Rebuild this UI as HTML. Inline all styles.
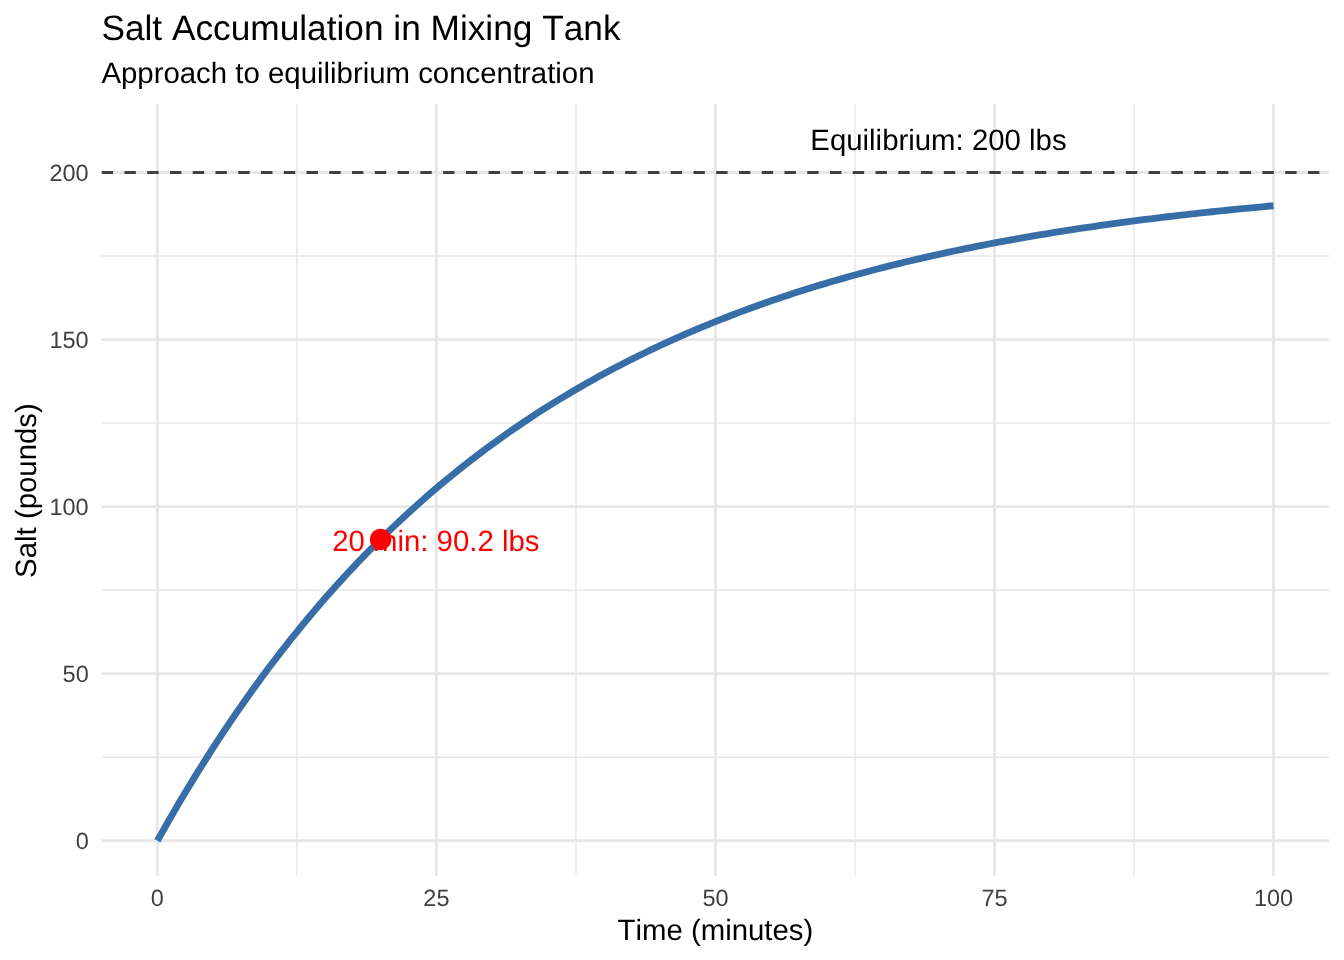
<!DOCTYPE html>
<html><head><meta charset="utf-8"><title>Salt Accumulation in Mixing Tank</title>
<style>
html,body{margin:0;padding:0;background:#fff;}
body{width:1344px;height:960px;overflow:hidden;}
svg{display:block;will-change:transform;font-kerning:none;text-rendering:geometricPrecision;font-family:"Liberation Sans",Arial,Helvetica,sans-serif;}
.ax{font-size:23.47px;fill:#404040;}
.lab{font-size:29.39px;fill:#000;}
</style></head><body>
<svg width="1344" height="960" viewBox="0 0 1344 960">
<rect width="1344" height="960" fill="#ffffff"/>
<text x="101.4" y="40.1" font-size="35.25" fill="#000">Salt Accumulation in Mixing Tank</text>
<text x="101.4" y="82.8" class="lab">Approach to equilibrium concentration</text>
<line x1="296.91" x2="296.91" y1="104.0" y2="875.85" stroke="#e7e7e7" stroke-width="1.42"/><line x1="575.94" x2="575.94" y1="104.0" y2="875.85" stroke="#e7e7e7" stroke-width="1.42"/><line x1="854.96" x2="854.96" y1="104.0" y2="875.85" stroke="#e7e7e7" stroke-width="1.42"/><line x1="1133.99" x2="1133.99" y1="104.0" y2="875.85" stroke="#e7e7e7" stroke-width="1.42"/><line x1="101.7" x2="1329.1" y1="757.23" y2="757.23" stroke="#e7e7e7" stroke-width="1.42"/><line x1="101.7" x2="1329.1" y1="590.17" y2="590.17" stroke="#e7e7e7" stroke-width="1.42"/><line x1="101.7" x2="1329.1" y1="423.10" y2="423.10" stroke="#e7e7e7" stroke-width="1.42"/><line x1="101.7" x2="1329.1" y1="256.03" y2="256.03" stroke="#e7e7e7" stroke-width="1.42"/><line x1="157.40" x2="157.40" y1="104.0" y2="875.85" stroke="#e7e7e7" stroke-width="2.84"/><line x1="436.42" x2="436.42" y1="104.0" y2="875.85" stroke="#e7e7e7" stroke-width="2.84"/><line x1="715.45" x2="715.45" y1="104.0" y2="875.85" stroke="#e7e7e7" stroke-width="2.84"/><line x1="994.47" x2="994.47" y1="104.0" y2="875.85" stroke="#e7e7e7" stroke-width="2.84"/><line x1="1273.50" x2="1273.50" y1="104.0" y2="875.85" stroke="#e7e7e7" stroke-width="2.84"/><line x1="101.7" x2="1329.1" y1="840.77" y2="840.77" stroke="#e7e7e7" stroke-width="2.84"/><line x1="101.7" x2="1329.1" y1="673.70" y2="673.70" stroke="#e7e7e7" stroke-width="2.84"/><line x1="101.7" x2="1329.1" y1="506.63" y2="506.63" stroke="#e7e7e7" stroke-width="2.84"/><line x1="101.7" x2="1329.1" y1="339.56" y2="339.56" stroke="#e7e7e7" stroke-width="2.84"/><line x1="101.7" x2="1329.1" y1="172.50" y2="172.50" stroke="#e7e7e7" stroke-width="2.84"/>
<polyline fill="none" stroke="#386ea7" stroke-width="6.83" stroke-linejoin="round" points="157.40,840.77 162.98,830.82 168.56,821.02 174.14,811.36 179.72,801.85 185.30,792.48 190.88,783.25 196.46,774.16 202.04,765.20 207.62,756.37 213.21,747.68 218.79,739.12 224.37,730.68 229.95,722.37 235.53,714.19 241.11,706.12 246.69,698.18 252.27,690.35 257.85,682.64 263.43,675.04 269.01,667.56 274.59,660.19 280.17,652.93 285.75,645.78 291.33,638.73 296.91,631.79 302.49,624.95 308.07,618.22 313.65,611.58 319.23,605.04 324.81,598.60 330.40,592.26 335.98,586.01 341.56,579.85 347.14,573.79 352.72,567.82 358.30,561.93 363.88,556.13 369.46,550.42 375.04,544.79 380.62,539.25 386.20,533.79 391.78,528.41 397.36,523.11 402.94,517.89 408.52,512.75 414.10,507.68 419.68,502.69 425.26,497.78 430.84,492.94 436.42,488.17 442.01,483.47 447.59,478.84 453.17,474.27 458.75,469.78 464.33,465.36 469.91,461.00 475.49,456.70 481.07,452.47 486.65,448.30 492.23,444.20 497.81,440.15 503.39,436.17 508.97,432.24 514.55,428.37 520.13,424.56 525.71,420.81 531.29,417.11 536.87,413.47 542.45,409.88 548.03,406.35 553.62,402.87 559.20,399.44 564.78,396.06 570.36,392.73 575.94,389.45 581.52,386.22 587.10,383.04 592.68,379.91 598.26,376.82 603.84,373.78 609.42,370.78 615.00,367.83 620.58,364.92 626.16,362.05 631.74,359.23 637.32,356.45 642.90,353.71 648.48,351.02 654.06,348.36 659.64,345.74 665.23,343.16 670.81,340.62 676.39,338.12 681.97,335.65 687.55,333.22 693.13,330.83 698.71,328.47 704.29,326.15 709.87,323.86 715.45,321.61 721.03,319.39 726.61,317.20 732.19,315.05 737.77,312.92 743.35,310.83 748.93,308.77 754.51,306.75 760.09,304.75 765.67,302.78 771.25,300.84 776.84,298.93 782.42,297.05 788.00,295.19 793.58,293.36 799.16,291.56 804.74,289.79 810.32,288.05 815.90,286.33 821.48,284.63 827.06,282.96 832.64,281.32 838.22,279.70 843.80,278.10 849.38,276.53 854.96,274.98 860.54,273.45 866.12,271.95 871.70,270.47 877.28,269.01 882.86,267.57 888.45,266.16 894.03,264.76 899.61,263.39 905.19,262.04 910.77,260.70 916.35,259.39 921.93,258.10 927.51,256.82 933.09,255.57 938.67,254.33 944.25,253.11 949.83,251.91 955.41,250.73 960.99,249.57 966.57,248.42 972.15,247.29 977.73,246.17 983.31,245.08 988.89,244.00 994.47,242.93 1000.06,241.88 1005.64,240.85 1011.22,239.83 1016.80,238.83 1022.38,237.84 1027.96,236.87 1033.54,235.91 1039.12,234.97 1044.70,234.04 1050.28,233.12 1055.86,232.22 1061.44,231.33 1067.02,230.45 1072.60,229.59 1078.18,228.74 1083.76,227.90 1089.34,227.08 1094.92,226.27 1100.50,225.47 1106.09,224.68 1111.67,223.90 1117.25,223.13 1122.83,222.38 1128.41,221.64 1133.99,220.91 1139.57,220.19 1145.15,219.48 1150.73,218.78 1156.31,218.09 1161.89,217.41 1167.47,216.74 1173.05,216.08 1178.63,215.43 1184.21,214.79 1189.79,214.16 1195.37,213.54 1200.95,212.93 1206.53,212.33 1212.11,211.74 1217.70,211.15 1223.28,210.58 1228.86,210.01 1234.44,209.45 1240.02,208.90 1245.60,208.36 1251.18,207.83 1256.76,207.30 1262.34,206.78 1267.92,206.27 1273.50,205.77"/>
<line x1="101.7" x2="1329.1" y1="172.50" y2="172.50" stroke="#404040" stroke-width="2.84" stroke-dasharray="11.38 11.38"/>
<circle cx="380.62" cy="539.38" r="10.7" fill="#ff0000"/>
<text x="435.82" y="551.2" text-anchor="middle" class="lab" style="fill:#ff0000">20 min: 90.2 lbs</text>
<text x="938.47" y="149.6" text-anchor="middle" class="lab">Equilibrium: 200 lbs</text>
<text x="88.7" y="848.97" text-anchor="end" class="ax">0</text><text x="88.7" y="681.90" text-anchor="end" class="ax">50</text><text x="88.7" y="514.83" text-anchor="end" class="ax">100</text><text x="88.7" y="347.76" text-anchor="end" class="ax">150</text><text x="88.7" y="180.70" text-anchor="end" class="ax">200</text>
<text x="157.40" y="905.8" text-anchor="middle" class="ax">0</text><text x="436.42" y="905.8" text-anchor="middle" class="ax">25</text><text x="715.45" y="905.8" text-anchor="middle" class="ax">50</text><text x="994.47" y="905.8" text-anchor="middle" class="ax">75</text><text x="1273.50" y="905.8" text-anchor="middle" class="ax">100</text>
<text x="715.40" y="939.9" text-anchor="middle" class="lab">Time (minutes)</text>
<text transform="translate(35.7,490.53) rotate(-90)" text-anchor="middle" class="lab">Salt (pounds)</text>
</svg>
</body></html>
